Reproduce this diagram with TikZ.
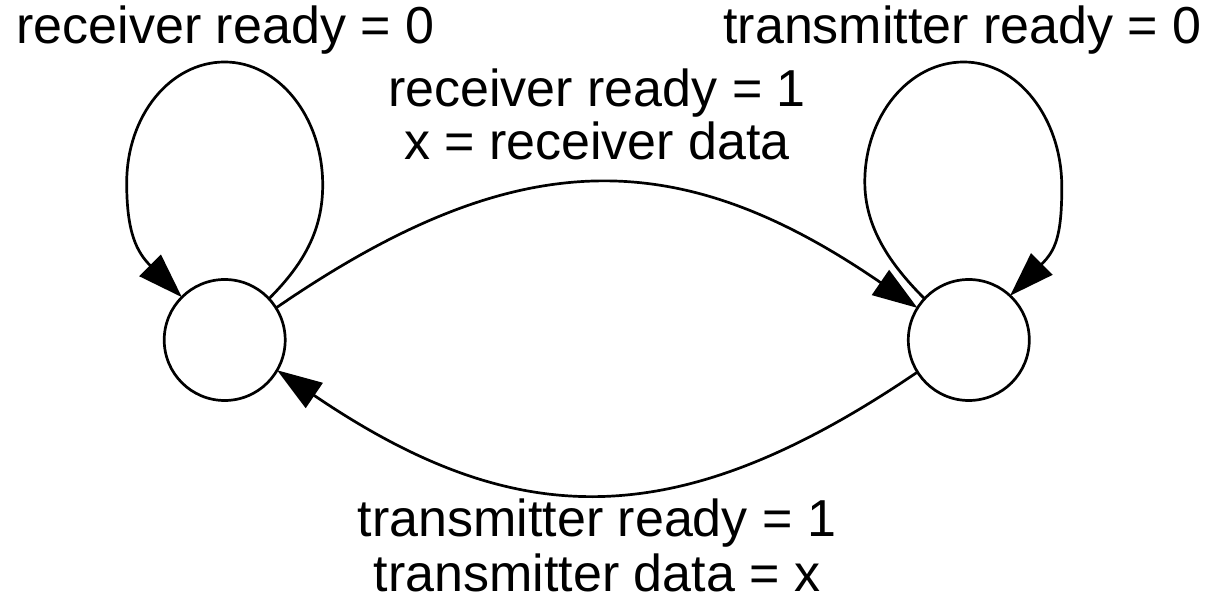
\documentclass[tikz,border=0pt]{standalone}
\usepackage{fontspec}
\setmainfont{Liberation Sans}
\usetikzlibrary{arrows.meta,calc}
\begin{document}
\begin{tikzpicture}[x=1pt,y=1pt,
  state/.style={circle,draw,line width=2.7pt,minimum size=121pt,inner sep=0pt,outer sep=0pt},
  edge/.style={line width=2.7pt,-{Triangle[length=45pt,width=30pt]}},
  lbl/.style={anchor=base,inner sep=0pt,font=\fontsize{52}{60}\selectfont}]
\fill[white] (0,0) rectangle (1215,607);
\useasboundingbox (0,0) rectangle (1215,607);

% the two states
\node[state] (L) at (224.7,267) {};
\node[state] (R) at (968.8,267) {};

% self loop on the receiving state
\draw[edge] (L.43) .. controls +(35,35) and +(0,-45) .. ($(L)+(98,155)$)
  .. controls +(0,68) and +(54,0) .. ($(L)+(0,278)$)
  .. controls +(-54,0) and +(0,68) .. ($(L)+(-98,157)$)
  .. controls +(0,-50) and +(-45,45) .. (L.135);

% self loop on the transmitting state
\draw[edge] (R.137) .. controls +(-35,35) and +(0,-45) .. ($(R)+(-104,158)$)
  .. controls +(0,66) and +(-55,0) .. ($(R)+(-5,278)$)
  .. controls +(54,0) and +(0,69) .. ($(R)+(93,153)$)
  .. controls +(0,-50) and +(45,45) .. (R.47);

% transitions between the states
\draw[edge] (L.32) .. controls +(240,165) and +(-240,165) .. (R.148);
\draw[edge] (R.212) .. controls +(-240,-163) and +(240,-163) .. (L.330);

% transition labels
\node[lbl] (l0) at (225.5,563) {receiver ready = 0};
\node[lbl] (t0) at (962.5,563) {transmitter ready = 0};
\node[lbl] (r1a) at (597,500) {receiver ready = 1};
\node[lbl] (r1b) at (597,447) {x = receiver data};
\node[lbl] (t1a) at (597,70) {transmitter ready = 1};
\node[lbl] (t1b) at (597,15) {transmitter data = x};
\end{tikzpicture}
\end{document}
